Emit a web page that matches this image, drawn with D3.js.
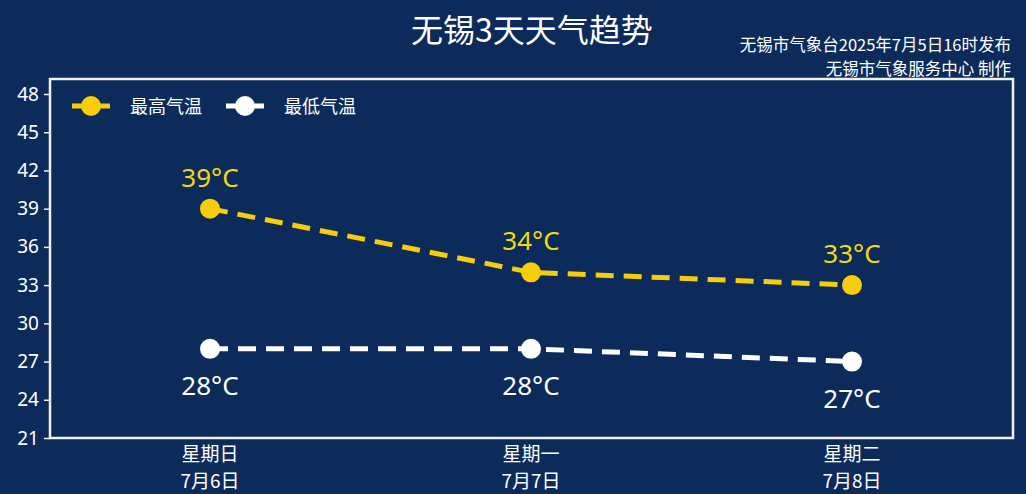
<!DOCTYPE html>
<html>
<head>
<meta charset="utf-8">
<script src="https://cdn.jsdelivr.net/npm/d3@7"></script>
<style>
  html, body { margin: 0; padding: 0; background: #0c2b5a; }
  svg { display: block; font-family: "Noto Sans CJK SC", "Noto Sans", sans-serif; }
</style>
</head>
<body>
<div id="chart-area"></div>
<script>
const days = ["星期日", "星期一", "星期二"];
const dates = ["7月6日", "7月7日", "7月8日"];
const highTemps = [39, 34, 33];
const lowTemps = [28, 28, 27];
const yTicks = [21, 24, 27, 30, 33, 36, 39, 42, 45, 48];

const WIDTH = 1026, HEIGHT = 494;
const BG = "#0c2b5a", YELLOW = "#f6cd0a", WHITE = "#ffffff";
const frame = { left: 50, right: 1013, top: 79, bottom: 438 };

const svg = d3.select("#chart-area").append("svg").attr("width", WIDTH).attr("height", HEIGHT);
svg.append("rect").attr("width", WIDTH).attr("height", HEIGHT).attr("fill", BG);

const x = d3.scalePoint().domain(days).range([210, 852]);
const y = d3.scaleLinear().domain([21, 48]).range([frame.bottom, 94]);

// title
svg.append("text").attr("x", 532).attr("y", 42).attr("text-anchor", "middle")
    .attr("font-size", "32px").attr("fill", WHITE).text("无锡3天天气趋势");
svg.append("text").attr("x", 1011).attr("y", 51).attr("text-anchor", "end")
    .attr("font-size", "16.5px").attr("fill", WHITE).text("无锡市气象台2025年7月5日16时发布");
svg.append("text").attr("x", 1011).attr("y", 75).attr("text-anchor", "end")
    .attr("font-size", "16.5px").attr("fill", WHITE).text("无锡市气象服务中心  制作");

// frame
svg.append("rect").attr("x", frame.left).attr("y", frame.top)
    .attr("width", frame.right - frame.left).attr("height", frame.bottom - frame.top)
    .attr("fill", "none").attr("stroke", "#f0f0f0").attr("stroke-width", 2.5);

// y axis
const yAxis = svg.append("g").attr("transform", `translate(${frame.left},0)`)
    .call(d3.axisLeft(y).tickValues(yTicks).tickSize(6).tickPadding(5));
yAxis.select(".domain").remove();
yAxis.selectAll("line").attr("stroke", "#f0f0f0").attr("stroke-width", 1.5);
yAxis.selectAll("text").attr("fill", WHITE).attr("font-size", "19px")
    .attr("font-family", "'Noto Sans', sans-serif");

// x labels
const xl = svg.append("g");
days.forEach((d, i) => {
    xl.append("text").attr("x", x(d)).attr("y", 461).attr("text-anchor", "middle")
        .attr("font-size", "19px").attr("fill", WHITE).text(d);
    xl.append("text").attr("x", x(d)).attr("y", 488).attr("text-anchor", "middle")
        .attr("font-size", "19px").attr("fill", WHITE).text(dates[i]);
});

const line = d3.line().x((v, i) => x(days[i])).y(v => y(v));

function drawSeries(values, color, above) {
    const g = svg.append("g");
    g.append("path").datum(values).attr("d", line).attr("fill", "none")
        .attr("stroke", color).attr("stroke-width", 5).attr("stroke-dasharray", "18,10");
    g.selectAll("circle").data(values).enter().append("circle")
        .attr("cx", (v, i) => x(days[i])).attr("cy", v => y(v)).attr("r", 10).attr("fill", color);
    g.selectAll("text").data(values).enter().append("text")
        .attr("x", (v, i) => x(days[i])).attr("y", v => y(v) + (above ? -22 : 46))
        .attr("text-anchor", "middle").attr("font-size", "26px")
        .attr("font-family", "'Noto Sans', sans-serif")
        .attr("fill", above ? "#f2d90f" : WHITE).text(v => v + "°C");
}
drawSeries(highTemps, YELLOW, true);
drawSeries(lowTemps, WHITE, false);

// legend
const legend = [{ name: "最高气温", color: YELLOW, x: 72 }, { name: "最低气温", color: WHITE, x: 226 }];
legend.forEach(l => {
    svg.append("line").attr("x1", l.x).attr("x2", l.x + 38).attr("y1", 106).attr("y2", 106)
        .attr("stroke", l.color).attr("stroke-width", 5);
    svg.append("circle").attr("cx", l.x + 19).attr("cy", 106).attr("r", 10).attr("fill", l.color);
    svg.append("text").attr("x", l.x + 58).attr("y", 113).attr("font-size", "18px")
        .attr("fill", WHITE).text(l.name);
});
</script>
</body>
</html>
